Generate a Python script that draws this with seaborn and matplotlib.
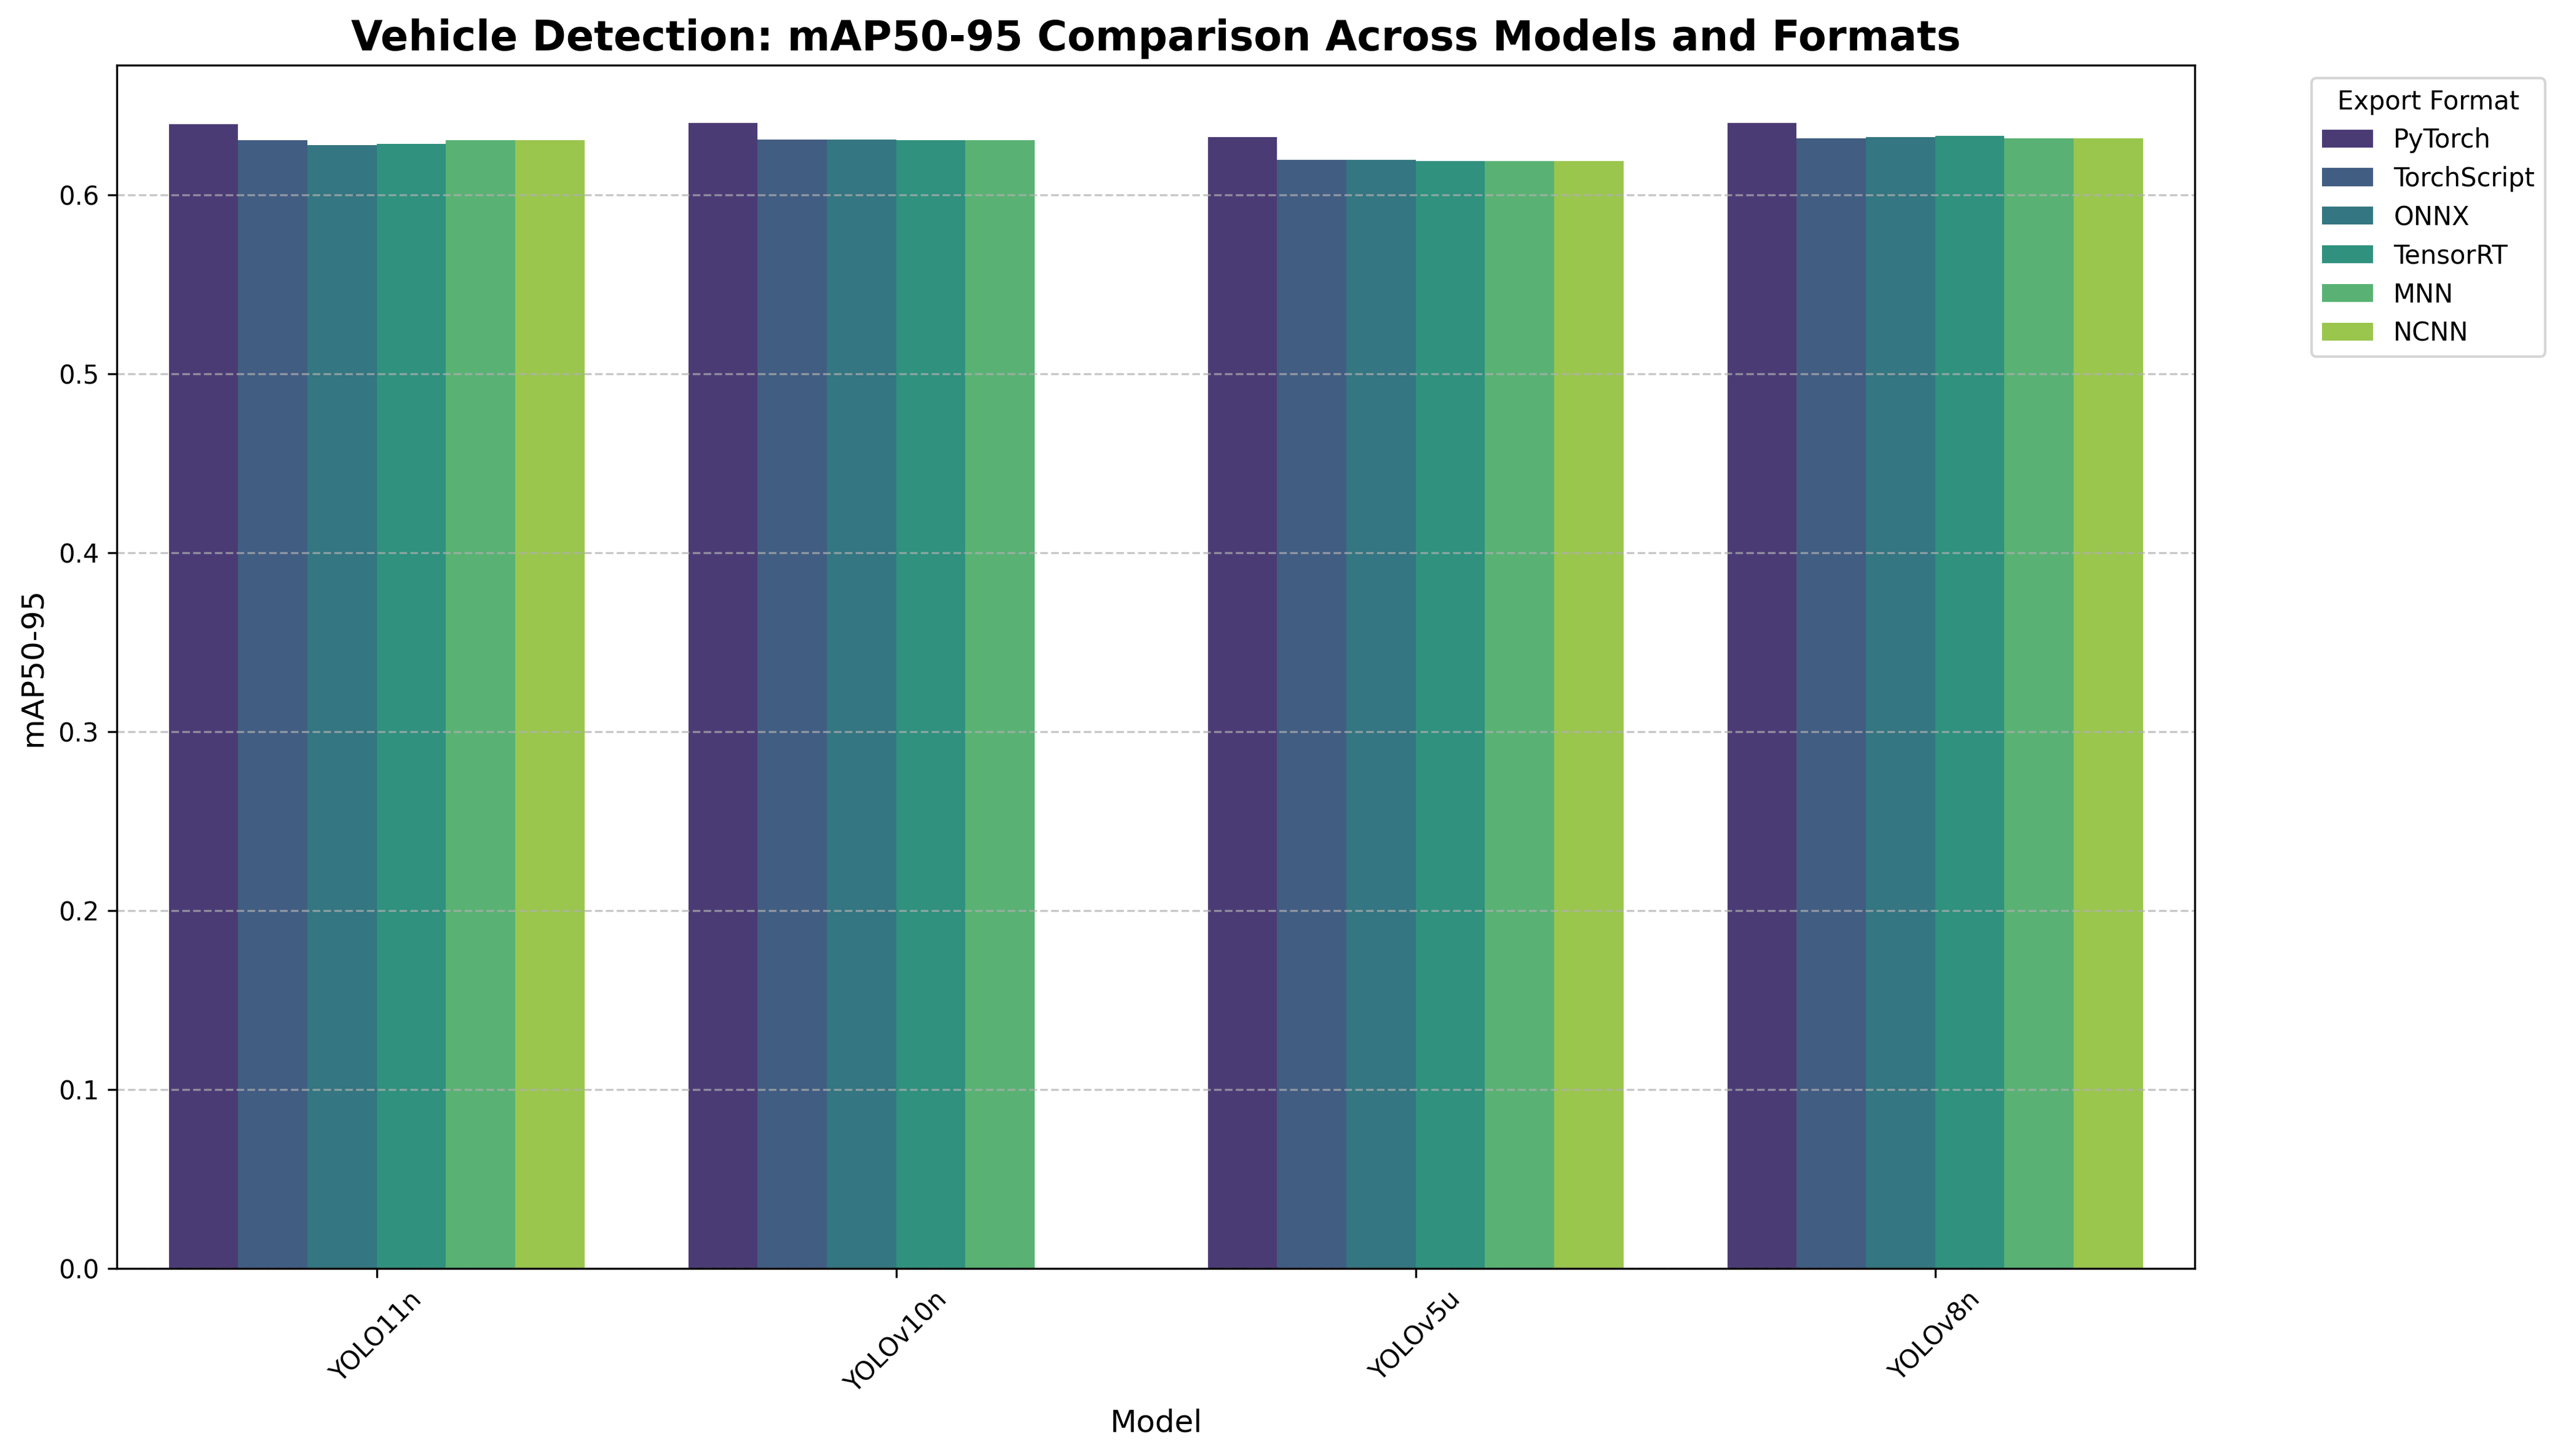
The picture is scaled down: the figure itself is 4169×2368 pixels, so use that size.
import numpy as np
import pandas as pd
import matplotlib
matplotlib.use("Agg")
import matplotlib.pyplot as plt
import seaborn as sns

models = ["YOLO11n", "YOLOv10n", "YOLOv5u", "YOLOv8n"]
formats = ["PyTorch", "TorchScript", "ONNX", "TensorRT", "MNN", "NCNN"]

# mAP50-95 per model, in format order (NaN = no result)
yolo11n = [0.6396, 0.6304, 0.6276, 0.6286, 0.6304, 0.6304]
yolov10n = [0.6403, 0.6307, 0.6307, 0.6304, 0.6304, np.nan]
yolov5u = [0.6324, 0.6194, 0.6194, 0.6187, 0.6190, 0.6190]
yolov8n = [0.6403, 0.6317, 0.6321, 0.6328, 0.6314, 0.6317]

rows = []
for m, vals in zip(models, [yolo11n, yolov10n, yolov5u, yolov8n]):
    for f, v in zip(formats, vals):
        rows.append({"Model": m, "Format": f, "mAP50-95": v})
df = pd.DataFrame(rows)

plt.figure(figsize=(14, 8))
ax = sns.barplot(data=df, x="Model", y="mAP50-95", hue="Format",
                 hue_order=formats, order=models, palette="viridis")
plt.title("Vehicle Detection: mAP50-95 Comparison Across Models and Formats",
          fontsize=16, fontweight="bold")
plt.xlabel("Model", fontsize=12)
plt.ylabel("mAP50-95", fontsize=12)
plt.xticks(rotation=45)
plt.grid(axis="y", linestyle="--", alpha=0.7)
plt.legend(title="Export Format", bbox_to_anchor=(1.05, 1), loc="upper left")
plt.tight_layout()
plt.savefig("out.png", dpi=300, bbox_inches="tight")
